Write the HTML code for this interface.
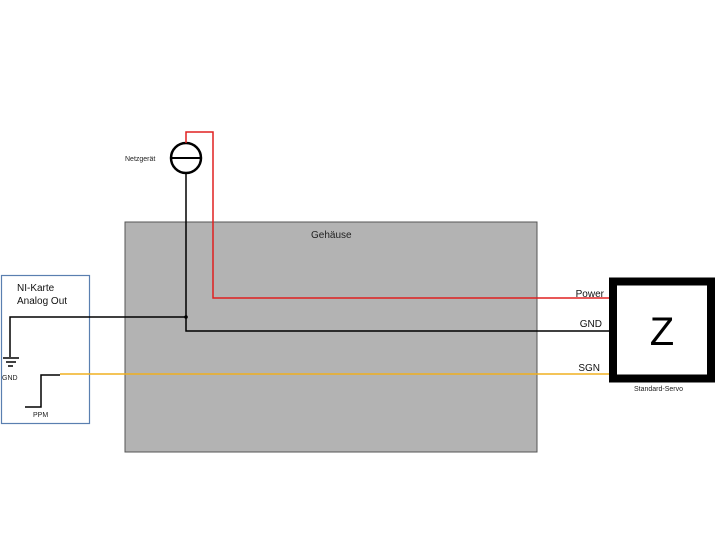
<!DOCTYPE html>
<html><head><style>body{margin:0;background:#fff}svg{display:block}</style></head><body>
<svg width="720" height="540" xmlns="http://www.w3.org/2000/svg" font-family="Liberation Sans, sans-serif">
<rect x="125" y="222" width="412" height="230" fill="#b3b3b3" stroke="#555" stroke-width="1"/>
<text x="311" y="238" font-size="10" fill="#222">Gehäuse</text>
<rect x="1.5" y="275.5" width="88" height="148" fill="none" stroke="#5a7fb0" stroke-width="1.2"/>
<text x="17" y="291" font-size="10" fill="#111">NI-Karte</text>
<text x="17" y="304" font-size="10" fill="#111">Analog Out</text>
<circle cx="186" cy="158" r="15" fill="#fff" stroke="#000" stroke-width="2.5"/>
<line x1="171" y1="158" x2="201" y2="158" stroke="#000" stroke-width="2"/>
<text x="125" y="161" font-size="7" fill="#222">Netzgerät</text>
<polyline points="186,143 186,132 213,132 213,298 610,298" fill="none" stroke="#e02020" stroke-width="1.5"/>
<polyline points="186,173 186,331 610,331" fill="none" stroke="#000" stroke-width="1.5"/>
<polyline points="186,317 10,317 10,357" fill="none" stroke="#000" stroke-width="1.5"/>
<circle cx="186" cy="317" r="1.8" fill="#000"/>
<line x1="3" y1="358" x2="19" y2="358" stroke="#000" stroke-width="1.5"/>
<line x1="6" y1="362" x2="16" y2="362" stroke="#000" stroke-width="1.5"/>
<line x1="8" y1="366" x2="13" y2="366" stroke="#000" stroke-width="1.5"/>
<text x="2" y="380" font-size="7" fill="#222">GND</text>
<polyline points="25,407 41,407 41,375 60,375" fill="none" stroke="#000" stroke-width="1.5"/>
<text x="33" y="417" font-size="7" fill="#222">PPM</text>
<line x1="60" y1="374" x2="610" y2="374" stroke="#f0b020" stroke-width="1.5"/>
<rect x="613" y="281.5" width="98" height="97" fill="#fff" stroke="#000" stroke-width="8"/>
<text x="662" y="345" font-size="40" text-anchor="middle" fill="#000">Z</text>
<text x="634" y="391" font-size="7" fill="#222">Standard-Servo</text>
<text x="604" y="297" font-size="10" text-anchor="end" fill="#111">Power</text>
<text x="602" y="327" font-size="10" text-anchor="end" fill="#111">GND</text>
<text x="600" y="371" font-size="10" text-anchor="end" fill="#111">SGN</text>
</svg>
</body></html>
